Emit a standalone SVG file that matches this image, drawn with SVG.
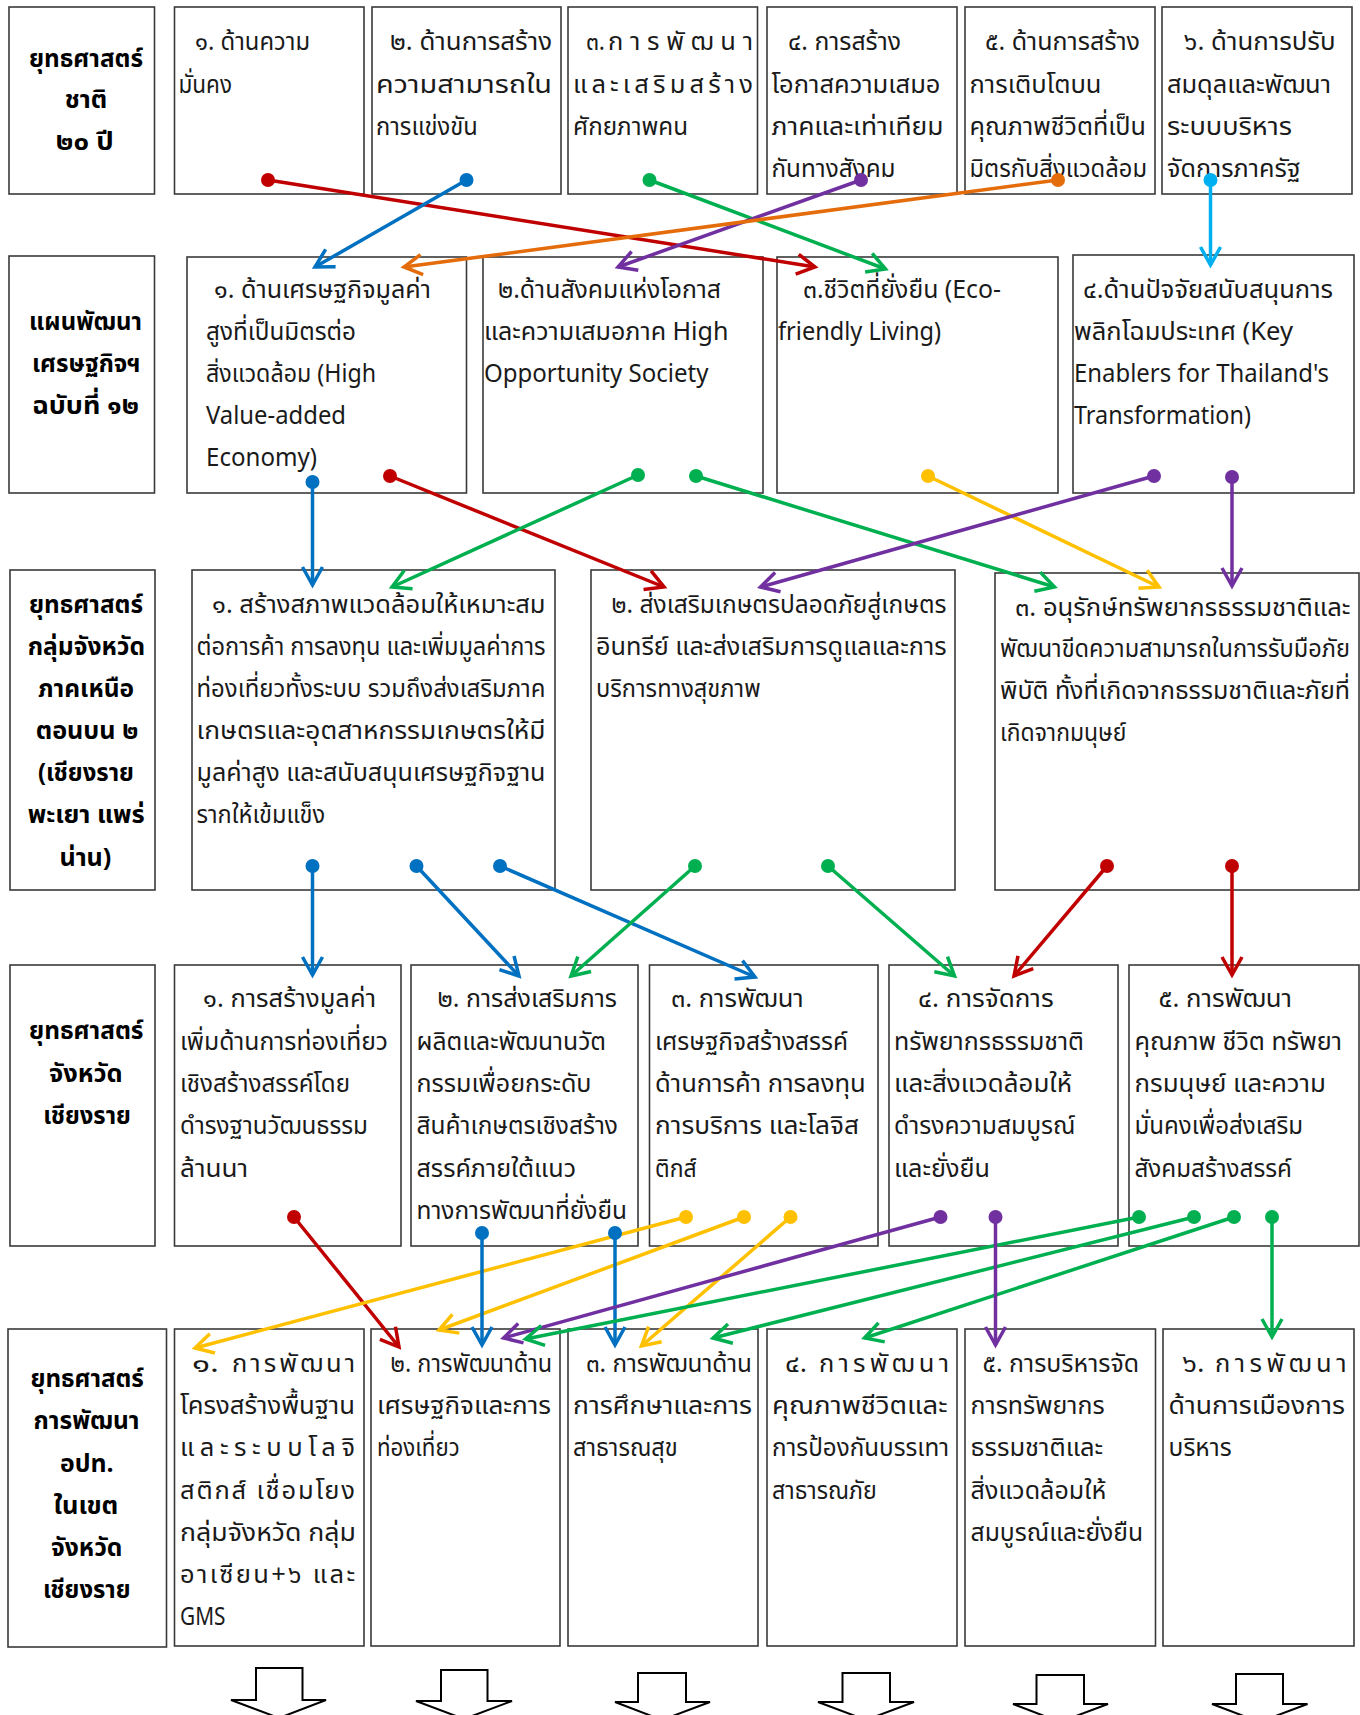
<svg xmlns="http://www.w3.org/2000/svg" width="1360" height="1715" viewBox="0 0 1360 1715">
<style>
.bx{fill:#fff;stroke:#3a3a3a;stroke-width:1.6}
.t{font-family:"Noto Sans Thai","Leelawadee UI",Tahoma,"Noto Sans",sans-serif;font-size:25.5px;fill:#1a1a1a}
.lb{font-family:"Noto Sans Thai","Leelawadee UI",Tahoma,"Noto Sans",sans-serif;font-size:25.5px;font-weight:bold;fill:#000}
.c{fill:none;stroke-width:3.5}
.blk{fill:#fff;stroke:#000;stroke-width:2}
</style>
<defs>
<marker id="aR" markerUnits="userSpaceOnUse" markerWidth="40" markerHeight="40" viewBox="-20 -20 40 40" refX="0" refY="0" orient="auto" overflow="visible"><path d="M-18,-10 L0,0 L-18,10" fill="none" stroke="#C00000" stroke-width="3.5"/></marker>
<marker id="aB" markerUnits="userSpaceOnUse" markerWidth="40" markerHeight="40" viewBox="-20 -20 40 40" refX="0" refY="0" orient="auto" overflow="visible"><path d="M-18,-10 L0,0 L-18,10" fill="none" stroke="#0070C0" stroke-width="3.5"/></marker>
<marker id="aG" markerUnits="userSpaceOnUse" markerWidth="40" markerHeight="40" viewBox="-20 -20 40 40" refX="0" refY="0" orient="auto" overflow="visible"><path d="M-18,-10 L0,0 L-18,10" fill="none" stroke="#00B050" stroke-width="3.5"/></marker>
<marker id="aP" markerUnits="userSpaceOnUse" markerWidth="40" markerHeight="40" viewBox="-20 -20 40 40" refX="0" refY="0" orient="auto" overflow="visible"><path d="M-18,-10 L0,0 L-18,10" fill="none" stroke="#7030A0" stroke-width="3.5"/></marker>
<marker id="aO" markerUnits="userSpaceOnUse" markerWidth="40" markerHeight="40" viewBox="-20 -20 40 40" refX="0" refY="0" orient="auto" overflow="visible"><path d="M-18,-10 L0,0 L-18,10" fill="none" stroke="#E46C0A" stroke-width="3.5"/></marker>
<marker id="aL" markerUnits="userSpaceOnUse" markerWidth="40" markerHeight="40" viewBox="-20 -20 40 40" refX="0" refY="0" orient="auto" overflow="visible"><path d="M-18,-10 L0,0 L-18,10" fill="none" stroke="#00B0F0" stroke-width="3.5"/></marker>
<marker id="aY" markerUnits="userSpaceOnUse" markerWidth="40" markerHeight="40" viewBox="-20 -20 40 40" refX="0" refY="0" orient="auto" overflow="visible"><path d="M-18,-10 L0,0 L-18,10" fill="none" stroke="#FFC000" stroke-width="3.5"/></marker>
<marker id="dR" markerUnits="userSpaceOnUse" markerWidth="20" markerHeight="20" viewBox="-10 -10 20 20" refX="0" refY="0" overflow="visible"><circle r="7" fill="#C00000"/></marker>
<marker id="dB" markerUnits="userSpaceOnUse" markerWidth="20" markerHeight="20" viewBox="-10 -10 20 20" refX="0" refY="0" overflow="visible"><circle r="7" fill="#0070C0"/></marker>
<marker id="dG" markerUnits="userSpaceOnUse" markerWidth="20" markerHeight="20" viewBox="-10 -10 20 20" refX="0" refY="0" overflow="visible"><circle r="7" fill="#00B050"/></marker>
<marker id="dP" markerUnits="userSpaceOnUse" markerWidth="20" markerHeight="20" viewBox="-10 -10 20 20" refX="0" refY="0" overflow="visible"><circle r="7" fill="#7030A0"/></marker>
<marker id="dO" markerUnits="userSpaceOnUse" markerWidth="20" markerHeight="20" viewBox="-10 -10 20 20" refX="0" refY="0" overflow="visible"><circle r="7" fill="#E46C0A"/></marker>
<marker id="dL" markerUnits="userSpaceOnUse" markerWidth="20" markerHeight="20" viewBox="-10 -10 20 20" refX="0" refY="0" overflow="visible"><circle r="7" fill="#00B0F0"/></marker>
<marker id="dY" markerUnits="userSpaceOnUse" markerWidth="20" markerHeight="20" viewBox="-10 -10 20 20" refX="0" refY="0" overflow="visible"><circle r="7" fill="#FFC000"/></marker>
</defs>
<rect width="1360" height="1715" fill="#fff"/>

<!-- Row 1 -->
<g id="label-r1"><rect class="bx" x="9" y="7" width="145.5" height="187"/>
<text class="lb" x="29" y="67" textLength="114" lengthAdjust="spacingAndGlyphs">ยุทธศาสตร์</text>
<text class="lb" x="64.7" y="108" textLength="42.4" lengthAdjust="spacingAndGlyphs">ชาติ</text>
<text class="lb" x="55.8" y="150" textLength="58" lengthAdjust="spacingAndGlyphs">๒๐ ปี</text></g>
<g id="n1-1"><rect class="bx" x="174.5" y="7" width="189.5" height="187"/>
<text class="t" x="195" y="50" textLength="115" lengthAdjust="spacingAndGlyphs">๑. ด้านความ</text>
<text class="t" x="178.5" y="92.5" textLength="53.5" lengthAdjust="spacingAndGlyphs">มั่นคง</text></g>
<g id="n1-2"><rect class="bx" x="372" y="7" width="189" height="187"/>
<text class="t" x="390" y="50" textLength="162" lengthAdjust="spacingAndGlyphs">๒. ด้านการสร้าง</text>
<text class="t" x="376" y="92.5" textLength="176" lengthAdjust="spacingAndGlyphs">ความสามารถใน</text>
<text class="t" x="376" y="135" textLength="101.7" lengthAdjust="spacingAndGlyphs">การแข่งขัน</text></g>
<g id="n1-3"><rect class="bx" x="568" y="7" width="189.5" height="187"/>
<text class="t" x="586" y="50" textLength="19" lengthAdjust="spacingAndGlyphs">๓.</text>
<text class="t" x="608" y="50" textLength="145" lengthAdjust="spacing">การพัฒนา</text>
<text class="t" x="573" y="92.5" textLength="180" lengthAdjust="spacing">และเสริมสร้าง</text>
<text class="t" x="573" y="135" textLength="115" lengthAdjust="spacingAndGlyphs">ศักยภาพคน</text></g>
<g id="n1-4"><rect class="bx" x="767" y="7" width="190" height="187"/>
<text class="t" x="788" y="50" textLength="113" lengthAdjust="spacingAndGlyphs">๔. การสร้าง</text>
<text class="t" x="771.5" y="92.5" textLength="169" lengthAdjust="spacingAndGlyphs">โอกาสความเสมอ</text>
<text class="t" x="771.5" y="135" textLength="172" lengthAdjust="spacingAndGlyphs">ภาคและเท่าเทียม</text>
<text class="t" x="771.5" y="177" textLength="124" lengthAdjust="spacingAndGlyphs">กันทางสังคม</text></g>
<g id="n1-5"><rect class="bx" x="965" y="7" width="190" height="187"/>
<text class="t" x="985" y="50" textLength="155" lengthAdjust="spacingAndGlyphs">๕. ด้านการสร้าง</text>
<text class="t" x="969.5" y="92.5" textLength="132" lengthAdjust="spacingAndGlyphs">การเติบโตบน</text>
<text class="t" x="969.5" y="135" textLength="176.5" lengthAdjust="spacingAndGlyphs">คุณภาพชีวิตที่เป็น</text>
<text class="t" x="969.5" y="177" textLength="177.5" lengthAdjust="spacingAndGlyphs">มิตรกับสิ่งแวดล้อม</text></g>
<g id="n1-6"><rect class="bx" x="1162" y="7" width="190" height="187"/>
<text class="t" x="1184" y="50" textLength="151.5" lengthAdjust="spacingAndGlyphs">๖. ด้านการปรับ</text>
<text class="t" x="1167" y="92.5" textLength="164" lengthAdjust="spacingAndGlyphs">สมดุลและพัฒนา</text>
<text class="t" x="1167" y="135" textLength="125" lengthAdjust="spacingAndGlyphs">ระบบบริหาร</text>
<text class="t" x="1167" y="177" textLength="133.6" lengthAdjust="spacingAndGlyphs">จัดการภาครัฐ</text></g>

<!-- Row 2 -->
<g id="label-r2"><rect class="bx" x="9" y="256" width="145.5" height="237"/>
<text class="lb" x="29" y="330" textLength="113" lengthAdjust="spacingAndGlyphs">แผนพัฒนา</text>
<text class="lb" x="32" y="372" textLength="108.5" lengthAdjust="spacingAndGlyphs">เศรษฐกิจฯ</text>
<text class="lb" x="32" y="414" textLength="107" lengthAdjust="spacingAndGlyphs">ฉบับที่ ๑๒</text></g>
<g id="n2-1"><rect class="bx" x="187" y="257" width="279.5" height="236"/>
<text class="t" x="214" y="298" textLength="217" lengthAdjust="spacingAndGlyphs">๑. ด้านเศรษฐกิจมูลค่า</text>
<text class="t" x="206" y="340" textLength="150" lengthAdjust="spacingAndGlyphs">สูงที่เป็นมิตรต่อ</text>
<text class="t" x="206" y="382" textLength="170" lengthAdjust="spacingAndGlyphs">สิ่งแวดล้อม (High</text>
<text class="t" x="206" y="424" textLength="140" lengthAdjust="spacingAndGlyphs">Value-added</text>
<text class="t" x="206" y="466" textLength="111" lengthAdjust="spacingAndGlyphs">Economy)</text></g>
<g id="n2-2"><rect class="bx" x="483" y="257" width="280" height="236"/>
<text class="t" x="498" y="298" textLength="223" lengthAdjust="spacingAndGlyphs">๒.ด้านสังคมแห่งโอกาส</text>
<text class="t" x="484" y="340" textLength="244.5" lengthAdjust="spacingAndGlyphs">และความเสมอภาค High</text>
<text class="t" x="484" y="382" textLength="224.5" lengthAdjust="spacingAndGlyphs">Opportunity Society</text></g>
<g id="n2-3"><rect class="bx" x="777" y="257" width="281" height="236"/>
<text class="t" x="803" y="298" textLength="198" lengthAdjust="spacingAndGlyphs">๓.ชีวิตที่ยั่งยืน (Eco-</text>
<text class="t" x="778" y="340" textLength="163" lengthAdjust="spacingAndGlyphs">friendly Living)</text></g>
<g id="n2-4"><rect class="bx" x="1073" y="255" width="281" height="238"/>
<text class="t" x="1083" y="298" textLength="250" lengthAdjust="spacingAndGlyphs">๔.ด้านปัจจัยสนับสนุนการ</text>
<text class="t" x="1074" y="340" textLength="219" lengthAdjust="spacingAndGlyphs">พลิกโฉมประเทศ (Key</text>
<text class="t" x="1074" y="382" textLength="255" lengthAdjust="spacingAndGlyphs">Enablers for Thailand's</text>
<text class="t" x="1074" y="424" textLength="177" lengthAdjust="spacingAndGlyphs">Transformation)</text></g>

<!-- Row 3 -->
<g id="label-r3"><rect class="bx" x="10" y="570" width="145" height="320"/>
<text class="lb" x="29" y="613" textLength="114" lengthAdjust="spacingAndGlyphs">ยุทธศาสตร์</text>
<text class="lb" x="27.7" y="655" textLength="117.4" lengthAdjust="spacingAndGlyphs">กลุ่มจังหวัด</text>
<text class="lb" x="38" y="697" textLength="96" lengthAdjust="spacingAndGlyphs">ภาคเหนือ</text>
<text class="lb" x="35.7" y="739" textLength="102.7" lengthAdjust="spacingAndGlyphs">ตอนบน ๒</text>
<text class="lb" x="38" y="781" textLength="96" lengthAdjust="spacingAndGlyphs">(เชียงราย</text>
<text class="lb" x="27.7" y="823" textLength="117" lengthAdjust="spacingAndGlyphs">พะเยา แพร่</text>
<text class="lb" x="59.4" y="866" textLength="52" lengthAdjust="spacingAndGlyphs">น่าน)</text></g>
<g id="n3-1"><rect class="bx" x="192" y="570" width="363" height="320"/>
<text class="t" x="212" y="613" textLength="333.5" lengthAdjust="spacingAndGlyphs">๑. สร้างสภาพแวดล้อมให้เหมาะสม</text>
<text class="t" x="196.5" y="655" textLength="349" lengthAdjust="spacingAndGlyphs">ต่อการค้า การลงทุน และเพิ่มมูลค่าการ</text>
<text class="t" x="196.5" y="697" textLength="349" lengthAdjust="spacingAndGlyphs">ท่องเที่ยวทั้งระบบ รวมถึงส่งเสริมภาค</text>
<text class="t" x="196.5" y="739" textLength="349" lengthAdjust="spacingAndGlyphs">เกษตรและอุตสาหกรรมเกษตรให้มี</text>
<text class="t" x="196.5" y="781" textLength="349" lengthAdjust="spacingAndGlyphs">มูลค่าสูง และสนับสนุนเศรษฐกิจฐาน</text>
<text class="t" x="196.5" y="823" textLength="128.6" lengthAdjust="spacingAndGlyphs">รากให้เข้มแข็ง</text></g>
<g id="n3-2"><rect class="bx" x="591" y="570" width="364" height="320"/>
<text class="t" x="611.5" y="613" textLength="335" lengthAdjust="spacingAndGlyphs">๒. ส่งเสริมเกษตรปลอดภัยสู่เกษตร</text>
<text class="t" x="596" y="655" textLength="350.5" lengthAdjust="spacingAndGlyphs">อินทรีย์ และส่งเสริมการดูแลและการ</text>
<text class="t" x="596" y="697" textLength="164.6" lengthAdjust="spacingAndGlyphs">บริการทางสุขภาพ</text></g>
<g id="n3-3"><rect class="bx" x="995" y="573" width="364" height="317"/>
<text class="t" x="1015" y="616" textLength="335.5" lengthAdjust="spacingAndGlyphs">๓. อนุรักษ์ทรัพยากรธรรมชาติและ</text>
<text class="t" x="1000" y="657" textLength="350" lengthAdjust="spacingAndGlyphs">พัฒนาขีดความสามารถในการรับมือภัย</text>
<text class="t" x="1000" y="699" textLength="350" lengthAdjust="spacingAndGlyphs">พิบัติ ทั้งที่เกิดจากธรรมชาติและภัยที่</text>
<text class="t" x="1000" y="741" textLength="126.4" lengthAdjust="spacingAndGlyphs">เกิดจากมนุษย์</text></g>

<!-- Row 4 -->
<g id="label-r4"><rect class="bx" x="10" y="965" width="145" height="281"/>
<text class="lb" x="29" y="1039" textLength="114.5" lengthAdjust="spacingAndGlyphs">ยุทธศาสตร์</text>
<text class="lb" x="49" y="1082" textLength="73.7" lengthAdjust="spacingAndGlyphs">จังหวัด</text>
<text class="lb" x="43.3" y="1124" textLength="87.5" lengthAdjust="spacingAndGlyphs">เชียงราย</text></g>
<g id="n4-1"><rect class="bx" x="174.5" y="965" width="226.5" height="281"/>
<text class="t" x="203" y="1007" textLength="173" lengthAdjust="spacingAndGlyphs">๑. การสร้างมูลค่า</text>
<text class="t" x="180" y="1050" textLength="208" lengthAdjust="spacingAndGlyphs">เพิ่มด้านการท่องเที่ยว</text>
<text class="t" x="180" y="1092" textLength="170" lengthAdjust="spacingAndGlyphs">เชิงสร้างสรรค์โดย</text>
<text class="t" x="180" y="1134" textLength="188" lengthAdjust="spacingAndGlyphs">ดำรงฐานวัฒนธรรม</text>
<text class="t" x="180" y="1177" textLength="68" lengthAdjust="spacingAndGlyphs">ล้านนา</text></g>
<g id="n4-2"><rect class="bx" x="411" y="965" width="227" height="281"/>
<text class="t" x="437.5" y="1007" textLength="179.5" lengthAdjust="spacingAndGlyphs">๒. การส่งเสริมการ</text>
<text class="t" x="416.5" y="1050" textLength="189.5" lengthAdjust="spacingAndGlyphs">ผลิตและพัฒนานวัต</text>
<text class="t" x="416.5" y="1092" textLength="175" lengthAdjust="spacingAndGlyphs">กรรมเพื่อยกระดับ</text>
<text class="t" x="416.5" y="1134" textLength="201.5" lengthAdjust="spacingAndGlyphs">สินค้าเกษตรเชิงสร้าง</text>
<text class="t" x="416.5" y="1177" textLength="159.5" lengthAdjust="spacingAndGlyphs">สรรค์ภายใต้แนว</text>
<text class="t" x="416.5" y="1219" textLength="210.5" lengthAdjust="spacingAndGlyphs">ทางการพัฒนาที่ยั่งยืน</text></g>
<g id="n4-3"><rect class="bx" x="649.5" y="965" width="228.5" height="281"/>
<text class="t" x="671" y="1007" textLength="132.7" lengthAdjust="spacingAndGlyphs">๓. การพัฒนา</text>
<text class="t" x="655" y="1050" textLength="193" lengthAdjust="spacingAndGlyphs">เศรษฐกิจสร้างสรรค์</text>
<text class="t" x="655" y="1092" textLength="210.7" lengthAdjust="spacingAndGlyphs">ด้านการค้า การลงทุน</text>
<text class="t" x="655" y="1134" textLength="204" lengthAdjust="spacingAndGlyphs">การบริการ และโลจิส</text>
<text class="t" x="655" y="1177" textLength="41.6" lengthAdjust="spacingAndGlyphs">ติกส์</text></g>
<g id="n4-4"><rect class="bx" x="889" y="965" width="229" height="281"/>
<text class="t" x="918" y="1007" textLength="135.7" lengthAdjust="spacingAndGlyphs">๔. การจัดการ</text>
<text class="t" x="894" y="1050" textLength="190" lengthAdjust="spacingAndGlyphs">ทรัพยากรธรรมชาติ</text>
<text class="t" x="894" y="1092" textLength="178" lengthAdjust="spacingAndGlyphs">และสิ่งแวดล้อมให้</text>
<text class="t" x="894" y="1134" textLength="181.5" lengthAdjust="spacingAndGlyphs">ดำรงความสมบูรณ์</text>
<text class="t" x="894" y="1177" textLength="96" lengthAdjust="spacingAndGlyphs">และยั่งยืน</text></g>
<g id="n4-5"><rect class="bx" x="1129" y="965" width="230" height="281"/>
<text class="t" x="1158.5" y="1007" textLength="133.4" lengthAdjust="spacingAndGlyphs">๕. การพัฒนา</text>
<text class="t" x="1134.5" y="1050" textLength="207.5" lengthAdjust="spacingAndGlyphs">คุณภาพ ชีวิต ทรัพยา</text>
<text class="t" x="1134.5" y="1092" textLength="191.5" lengthAdjust="spacingAndGlyphs">กรมนุษย์ และความ</text>
<text class="t" x="1134.5" y="1134" textLength="168.5" lengthAdjust="spacingAndGlyphs">มั่นคงเพื่อส่งเสริม</text>
<text class="t" x="1134.5" y="1177" textLength="157.5" lengthAdjust="spacingAndGlyphs">สังคมสร้างสรรค์</text></g>

<!-- Row 5 -->
<g id="label-r5"><rect class="bx" x="8" y="1329" width="158.5" height="318"/>
<text class="lb" x="30.4" y="1387" textLength="113.4" lengthAdjust="spacingAndGlyphs">ยุทธศาสตร์</text>
<text class="lb" x="33.5" y="1429" textLength="106" lengthAdjust="spacingAndGlyphs">การพัฒนา</text>
<text class="lb" x="60" y="1472" textLength="53.6" lengthAdjust="spacingAndGlyphs">อปท.</text>
<text class="lb" x="53.6" y="1514" textLength="64.7" lengthAdjust="spacingAndGlyphs">ในเขต</text>
<text class="lb" x="51" y="1556" textLength="71.4" lengthAdjust="spacingAndGlyphs">จังหวัด</text>
<text class="lb" x="43" y="1598" textLength="87.5" lengthAdjust="spacingAndGlyphs">เชียงราย</text></g>
<g id="n5-1"><rect class="bx" x="174.5" y="1329" width="189.5" height="317"/>
<text class="t" x="192" y="1372" textLength="27" lengthAdjust="spacingAndGlyphs">๑.</text>
<text class="t" x="232" y="1372" textLength="123" lengthAdjust="spacing">การพัฒนา</text>
<text class="t" x="180" y="1414" textLength="175" lengthAdjust="spacingAndGlyphs">โครงสร้างพื้นฐาน</text>
<text class="t" x="180" y="1456" textLength="175" lengthAdjust="spacing">และระบบโลจิ</text>
<text class="t" x="180" y="1499" textLength="175" lengthAdjust="spacing">สติกส์ เชื่อมโยง</text>
<text class="t" x="180" y="1541" textLength="176" lengthAdjust="spacingAndGlyphs">กลุ่มจังหวัด กลุ่ม</text>
<text class="t" x="180" y="1583" textLength="175" lengthAdjust="spacing">อาเซียน+๖ และ</text>
<text class="t" x="180" y="1625" textLength="45.5" lengthAdjust="spacingAndGlyphs">GMS</text></g>
<g id="n5-2"><rect class="bx" x="371" y="1329" width="189" height="317"/>
<text class="t" x="390.6" y="1372" textLength="161.5" lengthAdjust="spacingAndGlyphs">๒. การพัฒนาด้าน</text>
<text class="t" x="377" y="1414" textLength="174" lengthAdjust="spacingAndGlyphs">เศรษฐกิจและการ</text>
<text class="t" x="377" y="1456" textLength="82.6" lengthAdjust="spacingAndGlyphs">ท่องเที่ยว</text></g>
<g id="n5-3"><rect class="bx" x="568" y="1329" width="190" height="317"/>
<text class="t" x="586" y="1372" textLength="166" lengthAdjust="spacingAndGlyphs">๓. การพัฒนาด้าน</text>
<text class="t" x="573" y="1414" textLength="179" lengthAdjust="spacingAndGlyphs">การศึกษาและการ</text>
<text class="t" x="573" y="1456" textLength="104.7" lengthAdjust="spacingAndGlyphs">สาธารณสุข</text></g>
<g id="n5-4"><rect class="bx" x="767" y="1329" width="190" height="317"/>
<text class="t" x="785" y="1372" textLength="22" lengthAdjust="spacingAndGlyphs">๔.</text>
<text class="t" x="819" y="1372" textLength="130" lengthAdjust="spacing">การพัฒนา</text>
<text class="t" x="772" y="1414" textLength="175.5" lengthAdjust="spacingAndGlyphs">คุณภาพชีวิตและ</text>
<text class="t" x="772" y="1456" textLength="177" lengthAdjust="spacingAndGlyphs">การป้องกันบรรเทา</text>
<text class="t" x="772" y="1499" textLength="104.7" lengthAdjust="spacingAndGlyphs">สาธารณภัย</text></g>
<g id="n5-5"><rect class="bx" x="965" y="1329" width="190.5" height="317"/>
<text class="t" x="982.5" y="1372" textLength="156.5" lengthAdjust="spacingAndGlyphs">๕. การบริหารจัด</text>
<text class="t" x="970.6" y="1414" textLength="134" lengthAdjust="spacingAndGlyphs">การทรัพยากร</text>
<text class="t" x="970.6" y="1456" textLength="132.5" lengthAdjust="spacingAndGlyphs">ธรรมชาติและ</text>
<text class="t" x="970.6" y="1499" textLength="135.5" lengthAdjust="spacingAndGlyphs">สิ่งแวดล้อมให้</text>
<text class="t" x="970.6" y="1541" textLength="172.5" lengthAdjust="spacingAndGlyphs">สมบูรณ์และยั่งยืน</text></g>
<g id="n5-6"><rect class="bx" x="1163" y="1329" width="191" height="317"/>
<text class="t" x="1182.6" y="1372" textLength="22" lengthAdjust="spacingAndGlyphs">๖.</text>
<text class="t" x="1215" y="1372" textLength="131.5" lengthAdjust="spacing">การพัฒนา</text>
<text class="t" x="1168.6" y="1414" textLength="176.4" lengthAdjust="spacingAndGlyphs">ด้านการเมืองการ</text>
<text class="t" x="1168.6" y="1456" textLength="63" lengthAdjust="spacingAndGlyphs">บริหาร</text></g>

<!-- Block arrows -->
<g id="down-arrows">
<polygon class="blk" points="256,1668 302.5,1668 302.5,1700 326,1700 279,1718 231,1700 256,1700"/>
<polygon class="blk" points="441,1670 487.5,1670 487.5,1701 512,1701 464,1719 416,1701 441,1701"/>
<polygon class="blk" points="638,1673 686,1673 686,1702 710,1702 662,1720 615,1702 638,1702"/>
<polygon class="blk" points="842.5,1673 890,1673 890,1702 914,1702 866,1720 818,1702 842.5,1702"/>
<polygon class="blk" points="1036.5,1675 1084,1675 1084,1704 1108,1704 1060,1722 1013,1704 1036.5,1704"/>
<polygon class="blk" points="1236,1674 1283,1674 1283,1704 1307.5,1704 1259.5,1722 1212,1704 1236,1704"/>
</g>

<!-- Connectors -->
<g id="connectors" class="c">
<line x1="268" y1="180" x2="815" y2="267" stroke="#C00000" marker-start="url(#dR)" marker-end="url(#aR)"/>
<line x1="466.5" y1="180" x2="315" y2="267" stroke="#0070C0" marker-start="url(#dB)" marker-end="url(#aB)"/>
<line x1="649.5" y1="180" x2="885.5" y2="269" stroke="#00B050" marker-start="url(#dG)" marker-end="url(#aG)"/>
<line x1="861" y1="180" x2="618" y2="267" stroke="#7030A0" marker-start="url(#dP)" marker-end="url(#aP)"/>
<line x1="1058" y1="180" x2="404" y2="267" stroke="#E46C0A" marker-start="url(#dO)" marker-end="url(#aO)"/>
<line x1="1210.5" y1="180" x2="1210.5" y2="265" stroke="#00B0F0" marker-start="url(#dL)" marker-end="url(#aL)"/>

<line x1="312.5" y1="482" x2="312.5" y2="585" stroke="#0070C0" marker-start="url(#dB)" marker-end="url(#aB)"/>
<line x1="390" y1="476" x2="664" y2="587" stroke="#C00000" marker-start="url(#dR)" marker-end="url(#aR)"/>
<line x1="638" y1="475" x2="392" y2="587" stroke="#00B050" marker-start="url(#dG)" marker-end="url(#aG)"/>
<line x1="696" y1="476" x2="1054.5" y2="587" stroke="#00B050" marker-start="url(#dG)" marker-end="url(#aG)"/>
<line x1="928" y1="476" x2="1159" y2="587" stroke="#FFC000" marker-start="url(#dY)" marker-end="url(#aY)"/>
<line x1="1154" y1="476" x2="760.5" y2="587" stroke="#7030A0" marker-start="url(#dP)" marker-end="url(#aP)"/>
<line x1="1232" y1="477" x2="1232" y2="586" stroke="#7030A0" marker-start="url(#dP)" marker-end="url(#aP)"/>

<line x1="312.5" y1="866" x2="312.5" y2="975" stroke="#0070C0" marker-start="url(#dB)" marker-end="url(#aB)"/>
<line x1="416.5" y1="866" x2="519" y2="976" stroke="#0070C0" marker-start="url(#dB)" marker-end="url(#aB)"/>
<line x1="500" y1="866" x2="755" y2="977" stroke="#0070C0" marker-start="url(#dB)" marker-end="url(#aB)"/>
<line x1="695" y1="866" x2="571" y2="976" stroke="#00B050" marker-start="url(#dG)" marker-end="url(#aG)"/>
<line x1="828" y1="866" x2="954.5" y2="976" stroke="#00B050" marker-start="url(#dG)" marker-end="url(#aG)"/>
<line x1="1107" y1="866" x2="1014" y2="976" stroke="#C00000" marker-start="url(#dR)" marker-end="url(#aR)"/>
<line x1="1232" y1="866" x2="1232" y2="975" stroke="#C00000" marker-start="url(#dR)" marker-end="url(#aR)"/>

<line x1="294" y1="1217" x2="399" y2="1347" stroke="#C00000" marker-start="url(#dR)" marker-end="url(#aR)"/>
<line x1="686" y1="1217" x2="195" y2="1348" stroke="#FFC000" marker-start="url(#dY)" marker-end="url(#aY)"/>
<line x1="744" y1="1217" x2="439" y2="1330" stroke="#FFC000" marker-start="url(#dY)" marker-end="url(#aY)"/>
<line x1="790.5" y1="1217" x2="641.5" y2="1346" stroke="#FFC000" marker-start="url(#dY)" marker-end="url(#aY)"/>
<line x1="482" y1="1233" x2="482" y2="1345" stroke="#0070C0" marker-start="url(#dB)" marker-end="url(#aB)"/>
<line x1="615" y1="1233" x2="615" y2="1345" stroke="#0070C0" marker-start="url(#dB)" marker-end="url(#aB)"/>
<line x1="940.5" y1="1217" x2="503.5" y2="1338" stroke="#7030A0" marker-start="url(#dP)" marker-end="url(#aP)"/>
<line x1="1139" y1="1217" x2="525.5" y2="1339" stroke="#00B050" marker-start="url(#dG)" marker-end="url(#aG)"/>
<line x1="1194" y1="1217" x2="713" y2="1338" stroke="#00B050" marker-start="url(#dG)" marker-end="url(#aG)"/>
<line x1="1234" y1="1217" x2="864.5" y2="1338" stroke="#00B050" marker-start="url(#dG)" marker-end="url(#aG)"/>
<line x1="995.5" y1="1217" x2="995.5" y2="1345" stroke="#7030A0" marker-start="url(#dP)" marker-end="url(#aP)"/>
<line x1="1272" y1="1217" x2="1272" y2="1337" stroke="#00B050" marker-start="url(#dG)" marker-end="url(#aG)"/>
</g>
</svg>
